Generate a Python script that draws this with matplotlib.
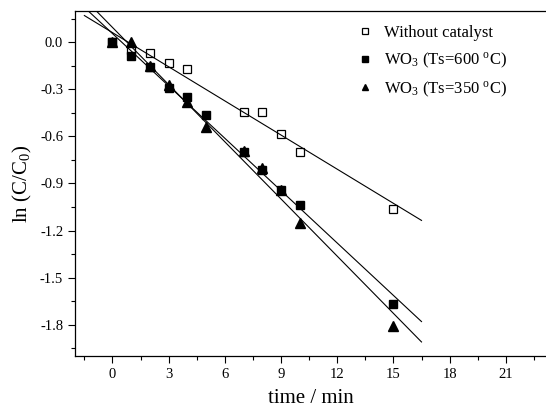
import matplotlib
matplotlib.use("Agg")
import matplotlib.pyplot as plt
from matplotlib.ticker import MultipleLocator, FormatStrFormatter
import numpy as np

plt.rcParams['font.family'] = ['Liberation Serif', 'DejaVu Serif']
plt.rcParams['mathtext.fontset'] = 'custom'
plt.rcParams['mathtext.rm'] = 'Liberation Serif'
plt.rcParams['mathtext.it'] = 'Liberation Serif:italic'
plt.rcParams['axes.unicode_minus'] = False

# data
t_blank = [0, 1, 2, 3, 4, 7, 8, 9, 10, 15]
y_blank = [0.0, -0.05, -0.07, -0.13, -0.17, -0.445, -0.445, -0.585, -0.70, -1.065]

t_600 = [0, 1, 2, 3, 4, 5, 7, 8, 9, 10, 15]
y_600 = [0.0, -0.085, -0.155, -0.29, -0.35, -0.46, -0.70, -0.815, -0.94, -1.04, -1.67]

t_350 = [0, 1, 2, 3, 4, 5, 7, 8, 9, 10, 15]
y_350 = [0.0, 0.0, -0.15, -0.27, -0.38, -0.54, -0.69, -0.80, -0.94, -1.15, -1.81]

labels = ['Without catalyst', r'WO$_3$ (Ts=600 $^{\rm o}$C)', r'WO$_3$ (Ts=350 $^{\rm o}$C)']

fig = plt.figure(figsize=(5.46, 4.13), dpi=100)
ax = fig.add_axes([75 / 546, 57 / 413, 472 / 546, 345 / 413])

ax.plot(t_blank, y_blank, 's', mfc='white', mec='black', ms=5.5, mew=0.9, label=labels[0])
ax.plot(t_600, y_600, 's', color='black', ms=5.5, label=labels[1])
ax.plot(t_350, y_350, '^', color='black', ms=7, label=labels[2])

# linear fits
xfit = np.linspace(-1.5, 16.5, 10)
for t, y in [(t_blank, y_blank), (t_600, y_600), (t_350, y_350)]:
    k, b = np.polyfit(t, y, 1)
    ax.plot(xfit, k * xfit + b, '-', color='black', lw=0.8)

ax.set_xlim(-2, 23.2)
ax.set_ylim(-2.0, 0.2)
ax.xaxis.set_major_locator(MultipleLocator(3))
ax.xaxis.set_minor_locator(MultipleLocator(1.5))
ax.yaxis.set_major_locator(MultipleLocator(0.3))
ax.yaxis.set_minor_locator(MultipleLocator(0.15))
ax.yaxis.set_major_formatter(FormatStrFormatter('%.1f'))
ax.tick_params(which='both', direction='out', labelsize=10.5)
ax.tick_params(which='major', length=5, width=0.8)
ax.tick_params(which='minor', length=3, width=0.8)
ax.spines['right'].set_visible(False)
for s in ['left', 'bottom', 'top']:
    ax.spines[s].set_linewidth(0.9)

ax.set_xlabel('time / min', fontsize=15, labelpad=6)
ax.set_ylabel(r'ln (C/C$_0$)', fontsize=15, labelpad=4)

ax.legend(loc='upper left', bbox_to_anchor=((342 - 75) / 472, 1.0), frameon=False, fontsize=12,
          borderaxespad=0.45, markerscale=0.7, handlelength=1.0, handletextpad=0.7, labelspacing=0.58)

fig.savefig('out.png', dpi=100)
